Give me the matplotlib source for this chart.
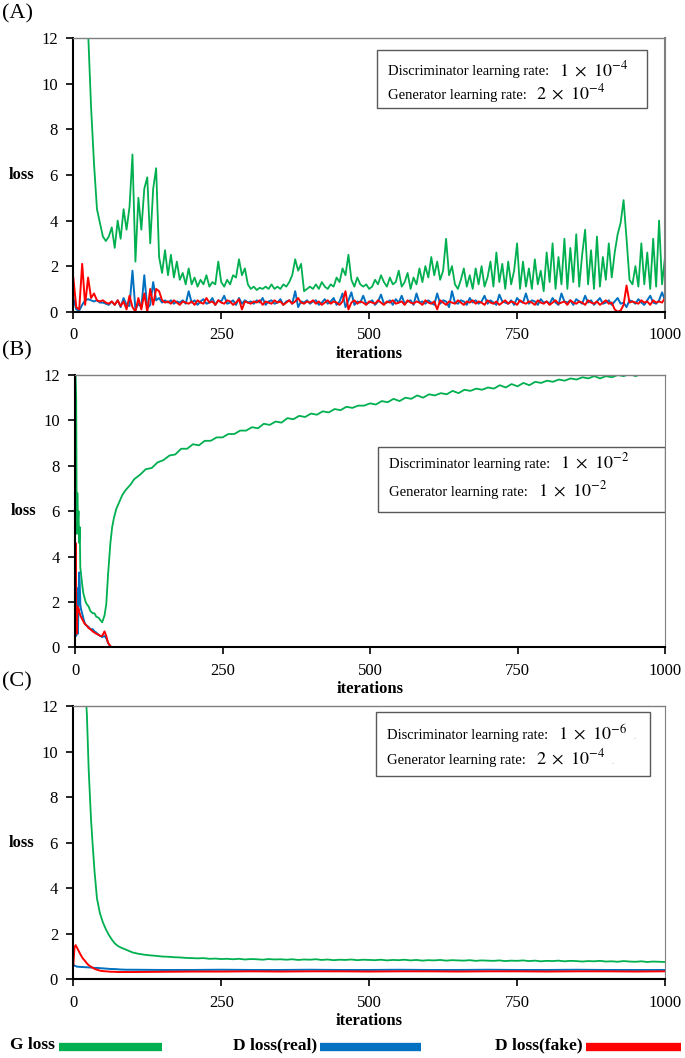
import numpy as np
import matplotlib
matplotlib.use("Agg")
import matplotlib.pyplot as plt
from matplotlib.lines import Line2D
from matplotlib.patches import Rectangle

plt.rcParams["font.family"] = ["Liberation Serif", "DejaVu Serif"]
plt.rcParams["mathtext.fontset"] = "stix"

GREEN = "#00B050"
BLUE = "#0070C0"
RED = "#FF0000"

# ----------------------------
# Panel A  (lr D 1e-4, G 2e-4), sampled every 5 iterations
# ----------------------------
a_iter = np.arange(0, 1001, 5)

a_g_loss = [
    40, 30, 22, 17, 14, 12.3, 9.0, 6.5, 4.5, 3.9, 3.3, 3.1, 3.3, 3.7, 2.8, 4.0, 3.2, 4.5, 3.6, 4.6,
    6.9, 2.2, 5.0, 3.6, 5.4, 5.9, 3.0, 5.4, 6.3, 2.4, 1.7, 2.7, 1.6, 2.5, 1.5, 2.2, 1.4, 1.7, 1.2, 1.9,
    1.2, 1.5, 1.1, 1.4, 1.2, 1.6, 1.1, 1.3, 1.2, 2.2, 1.3, 1.1, 1.4, 1.2, 1.6, 1.5, 2.3, 1.6, 1.9, 1.2,
    1.0, 1.1, 0.95, 1.05, 1.0, 1.1, 1.0, 1.2, 1.0, 1.1, 1.0, 1.2, 1.1, 1.3, 1.6, 2.3, 1.8, 2.1, 0.9, 1.0,
    1.1, 1.0, 1.2, 1.0, 1.3, 1.1, 1.0, 1.2, 1.1, 1.5, 1.3, 1.9, 1.6, 2.5, 1.4, 1.1, 1.5, 1.2, 1.1, 1.2,
    1.0, 1.1, 1.4, 1.2, 1.6, 1.3, 1.1, 1.5, 1.2, 1.3, 1.8, 1.1, 1.3, 1.7, 1.0, 1.5, 1.2, 1.9, 1.3, 2.0,
    1.5, 2.4, 1.6, 2.2, 1.4, 1.8, 3.2, 1.6, 2.0, 1.2, 1.0, 1.4, 1.9, 1.1, 1.6, 1.0, 1.9, 1.2, 2.0, 1.1,
    1.5, 2.2, 1.1, 2.6, 1.3, 2.1, 1.0, 2.2, 1.2, 1.8, 3.0, 1.0, 2.2, 1.1, 1.9, 1.0, 2.3, 1.2, 1.8, 0.9,
    2.6, 1.3, 3.0, 1.0, 2.4, 1.2, 3.2, 1.0, 2.8, 1.3, 3.4, 1.1, 2.5, 3.6, 1.2, 2.7, 1.0, 3.3, 1.1, 2.4,
    1.4, 3.0, 1.5, 2.6, 3.4, 3.9, 4.9, 3.2, 1.4, 1.2, 2.0, 1.1, 3.0, 1.2, 2.6, 1.0, 3.2, 1.1, 4.0, 1.2,
    2.4,
]

a_d_real = [
    0.6, 0.1, 0.05, 0.3, 0.5, 0.55, 0.5, 0.45, 0.5, 0.4, 0.4, 0.35, 0.3, 0.45, 0.3, 0.5, 0.2, 0.6, 0.3, 0.25,
    1.8, 0.1, 0.35, 0.2, 1.6, 0.15, 0.3, 1.3, 0.5, 0.6, 0.4, 0.5, 0.4, 0.5, 0.35, 0.45, 0.4, 0.5, 0.35, 0.9,
    0.4, 0.5, 0.3, 0.45, 0.55, 0.35, 0.4, 0.6, 0.3, 0.5, 0.45, 0.7, 0.35, 0.4, 0.5, 0.3, 0.6, 0.35, 0.5, 0.4,
    0.45, 0.35, 0.5, 0.4, 0.6, 0.3, 0.45, 0.5, 0.35, 0.4, 0.55, 0.3, 0.45, 0.5, 0.35, 0.9, 0.2, 0.45, 0.4, 0.5,
    0.35, 0.45, 0.5, 0.3, 0.4, 0.55, 0.35, 0.45, 0.6, 0.3, 0.45, 0.8, 0.2, 0.5, 0.85, 0.3, 0.45, 0.4, 0.7, 0.35,
    0.4, 0.5, 0.3, 0.45, 0.75, 0.35, 0.4, 0.5, 0.3, 0.55, 0.4, 0.7, 0.35, 0.45, 0.5, 0.3, 0.8, 0.4, 0.45, 0.35,
    0.5, 0.4, 0.3, 0.8, 0.35, 0.5, 0.45, 0.2, 0.9, 0.4, 0.35, 0.5, 0.45, 0.3, 0.6, 0.4, 0.5, 0.35, 0.45, 0.7,
    0.35, 0.5, 0.4, 0.3, 0.75, 0.45, 0.4, 0.35, 0.5, 0.3, 0.6, 0.45, 0.4, 0.8, 0.35, 0.5, 0.45, 0.3, 0.55, 0.4,
    0.45, 0.35, 0.6, 0.4, 0.3, 0.8, 0.45, 0.4, 0.5, 0.3, 0.55, 0.45, 0.35, 0.7, 0.4, 0.5, 0.3, 0.45, 0.6, 0.35,
    0.4, 0.5, 0.3, 0.45, 0.6, 0.35, 0.4, 0.2, 0.5, 0.45, 0.35, 0.55, 0.4, 0.3, 0.5, 0.7, 0.4, 0.35, 0.5, 0.85,
    0.5,
]

a_d_fake = [
    1.5, 0.2, 0.1, 2.1, 0.3, 1.5, 0.6, 0.8, 0.5, 0.45, 0.5, 0.4, 0.35, 0.45, 0.3, 0.5, 0.25, 0.45, 0.1, 0.7,
    0.2, 0.0, 0.6, 0.1, 0.8, 0.0, 1.0, 0.3, 1.0, 0.9, 0.5, 0.4, 0.45, 0.35, 0.5, 0.4, 0.3, 0.45, 0.4, 0.35,
    0.45, 0.3, 0.5, 0.4, 0.35, 0.6, 0.4, 0.45, 0.3, 0.5, 0.4, 0.35, 0.5, 0.45, 0.3, 0.4, 0.55, 0.1, 0.45, 0.4,
    0.35, 0.45, 0.4, 0.5, 0.3, 0.45, 0.4, 0.35, 0.5, 0.4, 0.45, 0.3, 0.4, 0.5, 0.35, 0.45, 0.6, 0.4, 0.35, 0.45,
    0.4, 0.5, 0.35, 0.45, 0.3, 0.4, 0.5, 0.35, 0.45, 0.4, 0.3, 0.45, 0.9, 0.1, 0.4, 0.5, 0.35, 0.45, 0.4, 0.3,
    0.45, 0.4, 0.35, 0.5, 0.4, 0.3, 0.45, 0.4, 0.5, 0.35, 0.4, 0.45, 0.3, 0.5, 0.4, 0.35, 0.45, 0.4, 0.3, 0.5,
    0.4, 0.35, 0.45, 0.1, 0.5, 0.4, 0.3, 0.45, 0.4, 0.35, 0.5, 0.4, 0.3, 0.45, 0.4, 0.5, 0.35, 0.45, 0.4, 0.3,
    0.5, 0.4, 0.35, 0.45, 0.3, 0.4, 0.5, 0.35, 0.45, 0.4, 0.3, 0.5, 0.4, 0.35, 0.45, 0.4, 0.3, 0.5, 0.4, 0.35,
    0.45, 0.3, 0.4, 0.5, 0.35, 0.4, 0.45, 0.3, 0.5, 0.4, 0.35, 0.45, 0.4, 0.3, 0.5, 0.4, 0.35, 0.45, 0.3, 0.4,
    0.5, 0.35, 0.4, 0.1, 0.0, 0.05, 0.3, 1.15, 0.4, 0.45, 0.4, 0.35, 0.5, 0.4, 0.45, 0.3, 0.5, 0.4, 0.45, 0.4,
    0.6,
]

# ----------------------------
# Panel B  (lr D 1e-2, G 1e-2)
# ----------------------------
b_iter = [0, 1, 2, 3, 4, 5, 6, 7, 8, 9, 10, 12, 14, 16, 18, 20, 23, 26, 30, 33, 36, 40, 43, 46,
          50, 53, 56, 60, 63, 66, 70, 75, 80, 85, 90, 95, 100] + list(range(110, 1001, 10))

b_g_loss = [
    12.5, 12.0, 11.0, 5.0, 6.8, 5.5, 6.0, 4.6, 5.3, 3.5, 3.3, 2.8, 2.4, 2.2, 2.0, 1.9, 1.8, 1.6, 1.5, 1.5,
    1.35, 1.3, 1.2, 1.1, 1.4, 1.9, 3.2, 4.6, 5.3, 5.7, 6.1, 6.4, 6.7, 6.9, 7.05, 7.2, 7.4,
    7.6, 7.85, 7.9, 8.15, 8.25, 8.45, 8.5, 8.75, 8.75, 8.95,
    8.9, 9.1, 9.1, 9.25, 9.25, 9.4, 9.4, 9.55, 9.55, 9.7,
    9.65, 9.85, 9.8, 9.95, 9.9, 10.1, 10.05, 10.2, 10.15, 10.3,
    10.25, 10.4, 10.35, 10.5, 10.45, 10.6, 10.55, 10.65, 10.65, 10.75,
    10.7, 10.85, 10.8, 10.95, 10.85, 11.0, 10.95, 11.1, 11.0, 11.15,
    11.1, 11.2, 11.15, 11.3, 11.2, 11.35, 11.3, 11.4, 11.35, 11.45,
    11.4, 11.55, 11.45, 11.6, 11.5, 11.65, 11.55, 11.7, 11.65, 11.75,
    11.7, 11.8, 11.75, 11.85, 11.8, 11.9, 11.85, 11.95, 11.85, 11.95,
    11.9, 12.0, 11.95, 12.05, 11.95, 12.05, 12.0, 12.1, 12.0, 12.05,
]

b_d_iter = [0, 1, 2, 3, 4, 5, 6, 7, 8, 9, 10, 12, 14, 16, 18, 20, 23, 26, 30, 33, 36, 40, 43, 46,
            50, 53, 56, 60, 63, 66, 1000]
b_d_real = [0.6, 2.0, 0.5, 1.5, 2.6, 0.6, 2.2, 3.3, 2.8, 1.9, 1.7, 1.5, 1.3, 1.1, 1.0, 0.95, 0.9, 0.8,
            0.8, 0.7, 0.65, 0.55, 0.5, 0.45, 0.5, 0.4, 0.2, 0.02, 0.0, 0.0, 0.0]
b_d_fake = [1.0, 4.6, 1.2, 0.6, 1.8, 1.6, 1.7, 1.55, 1.5, 1.4, 1.35, 1.25, 1.15, 1.05, 1.0, 0.95, 0.85, 0.8,
            0.7, 0.65, 0.6, 0.55, 0.5, 0.5, 0.7, 0.5, 0.2, 0.05, 0.0, 0.0, 0.0]

# ----------------------------
# Panel C  (lr D 1e-6, G 2e-4)
# ----------------------------
c_iter = [0, 2, 4, 6, 8, 10, 13, 16, 20, 23, 26, 30, 33, 36, 40, 45, 50, 55, 60, 65, 70, 75, 80, 90,
          100] + list(range(110, 1001, 10))

c_g_loss = [
    40, 32, 27, 23, 20, 18, 16, 14.5, 13, 11.6, 9.2, 7.0, 5.8, 4.7, 3.55, 2.9, 2.5, 2.2, 1.95, 1.75,
    1.58, 1.47, 1.4, 1.29, 1.18,
    1.12, 1.08, 1.05, 1.03, 1.0, 0.99, 0.97, 0.96, 0.94, 0.93,
    0.92, 0.93, 0.9, 0.91, 0.89, 0.9, 0.88, 0.9, 0.87, 0.89,
    0.88, 0.86, 0.89, 0.87, 0.88, 0.86, 0.88, 0.85, 0.87, 0.86,
    0.88, 0.85, 0.87, 0.84, 0.86, 0.85, 0.87, 0.84, 0.86, 0.85,
    0.84, 0.86, 0.83, 0.85, 0.84, 0.86, 0.83, 0.85, 0.82, 0.84,
    0.83, 0.85, 0.82, 0.84, 0.83, 0.82, 0.84, 0.81, 0.83, 0.82,
    0.81, 0.83, 0.8, 0.82, 0.81, 0.83, 0.8, 0.82, 0.79, 0.81,
    0.8, 0.82, 0.79, 0.81, 0.8, 0.78, 0.8, 0.79, 0.81, 0.78,
    0.79, 0.77, 0.8, 0.78, 0.77, 0.79, 0.76, 0.78, 0.77, 0.76,
]

c_d_iter = [0, 2, 4, 6, 8, 10, 13, 16, 20, 23, 26, 30, 33, 36, 40, 45, 50, 55, 60, 65, 70, 75, 80, 90,
            100, 150, 200, 250, 300, 350, 400, 450, 500, 550, 600, 650, 700, 750, 800, 850, 900, 950, 1000]
c_d_real = [0.63, 0.6, 0.58, 0.56, 0.55, 0.55, 0.54, 0.54, 0.53, 0.53, 0.52, 0.52, 0.51, 0.5, 0.5,
            0.49, 0.48, 0.47, 0.46, 0.45, 0.45, 0.44, 0.43, 0.42, 0.42, 0.41, 0.41, 0.42, 0.41, 0.41,
            0.42, 0.41, 0.41, 0.42, 0.41, 0.41, 0.42, 0.41, 0.41, 0.42, 0.41, 0.41, 0.41]
c_d_fake = [0.6, 1.4, 1.5, 1.4, 1.3, 1.2, 1.05, 0.92, 0.8, 0.7, 0.62, 0.55, 0.5, 0.46, 0.42, 0.38,
            0.36, 0.35, 0.34, 0.33, 0.33, 0.32, 0.32, 0.32, 0.32, 0.33, 0.34, 0.34, 0.35, 0.34, 0.35,
            0.35, 0.34, 0.35, 0.35, 0.34, 0.35, 0.35, 0.34, 0.35, 0.35, 0.34, 0.35]

panel_labels = ["(A)", "(B)", "(C)"]
lr_d = [r"$1\ \times\ 10^{-4}$", r"$1\ \times\ 10^{-2}$", r"$1\ \times\ 10^{-6}$"]
lr_g = [r"$2\ \times\ 10^{-4}$", r"$1\ \times\ 10^{-2}$", r"$2\ \times\ 10^{-4}$"]
x_ticks = [0, 250, 500, 750, 1000]
y_ticks = [0, 2, 4, 6, 8, 10, 12]

W, H = 685, 1058


def px_rect(left, right, top, bottom):
    return [left / W, 1 - bottom / H, (right - left) / W, (bottom - top) / H]


fig = plt.figure(figsize=(W / 100, H / 100), dpi=100)
renderer = fig.canvas.get_renderer()

# pixel boxes of the three panels: left, right, top, bottom
rects = [(73.3, 665, 38.3, 311.7), (75, 665, 375, 647.3), (73.3, 665, 706, 979.3)]
# text box: left, right, top, bottom (pixels) and the two text baselines
boxes = [(376.7, 646.7, 50, 108), (378, 665, 447, 512), (376, 650, 712, 776)]
baselines = [(75.5, 98.5), (468, 496), (739, 764)]

series = [
    ((a_iter, a_g_loss), (a_iter, a_d_real), (a_iter, a_d_fake)),
    ((b_iter, b_g_loss), (b_d_iter, b_d_real), (b_d_iter, b_d_fake)),
    ((c_iter, c_g_loss), (c_d_iter, c_d_real), (c_d_iter, c_d_fake)),
]

for k in range(3):
    l, r, t, b = rects[k]
    ax = fig.add_axes(px_rect(l, r, t, b))
    (gx, gy), (rx, ry), (fx, fy) = series[k]
    ax.plot(gx, gy, color=GREEN, lw=1.3)
    ax.plot(rx, ry, color=BLUE, lw=1.4)
    ax.plot(fx, fy, color=RED, lw=1.4)

    ax.set_xlim(0, 1000)
    ax.set_ylim(0, 12)
    ax.set_xticks(x_ticks)
    ax.set_yticks(y_ticks)
    ax.tick_params(direction="out", length=5, width=1.2, labelsize=12, pad=6)
    ax.spines["left"].set_linewidth(1.5)
    ax.spines["bottom"].set_linewidth(1.5)
    ax.spines["top"].set_color("#7f7f7f")
    ax.spines["top"].set_linewidth(1.0)
    ax.spines["right"].set_color("#7f7f7f")
    ax.spines["right"].set_linewidth(1.5 if k == 0 else 0.8)

    ax.set_xlabel("iterations", fontsize=12, fontweight="bold", labelpad=2)
    ax.set_ylabel("loss", fontsize=12, fontweight="bold", rotation=0, va="center")
    ax.yaxis.set_label_coords(-0.087, 0.5)

    # learning-rate box
    bl, br, bt, bb = boxes[k]
    axw, axh = r - l, b - t
    x0 = (bl - l) / axw
    y0 = (b - bb) / axh
    ax.add_patch(Rectangle((x0, y0), (br - bl) / axw, (bb - bt) / axh, transform=ax.transAxes,
                           fill=True, facecolor="white", edgecolor="#595959", lw=1.0, zorder=5))
    tx = x0 + 11 / axw
    for label, value, base in [("Discriminator learning rate:", lr_d[k], baselines[k][0]),
                               ("Generator learning rate:", lr_g[k], baselines[k][1])]:
        ty = (b - base) / axh
        t1 = ax.text(tx, ty, label, transform=ax.transAxes, fontsize=10.5,
                     va="baseline", ha="left", zorder=6)
        x_end = t1.get_window_extent(renderer).x1
        mx = ax.transAxes.inverted().transform((x_end + 10, 0))[0]
        t2 = ax.text(mx, ty, value, transform=ax.transAxes, fontsize=13,
                     va="baseline", ha="left", zorder=6)
        if k == 2:
            x_end2 = t2.get_window_extent(renderer).x1
            dx = ax.transAxes.inverted().transform((x_end2 + 6, 0))[0]
            ax.text(dx, ty, ".", transform=ax.transAxes, fontsize=7, color="#c0c0c0",
                    va="baseline", ha="left", zorder=6)

    fig.text(2 / W, 1 - (t - 24) / H, panel_labels[k], fontsize=16, va="center", ha="left")

# legend row at the bottom
leg_y = 1 - 1045 / H
fig.text(10 / W, leg_y, "G loss", fontsize=12.5, fontweight="bold", va="center", ha="left")
fig.text(317 / W, leg_y, "D loss(real)", fontsize=12.5, fontweight="bold", va="center", ha="right")
fig.text(583 / W, leg_y, "D loss(fake)", fontsize=12.5, fontweight="bold", va="center", ha="right")
for (x0, x1), col in zip([(59, 162), (320, 421), (586, 681)], [GREEN, BLUE, RED]):
    fig.add_artist(Line2D([x0 / W, x1 / W], [leg_y - 2 / H, leg_y - 2 / H], color=col, lw=6,
                          solid_capstyle="butt"))

fig.savefig("out.png", dpi=100)
